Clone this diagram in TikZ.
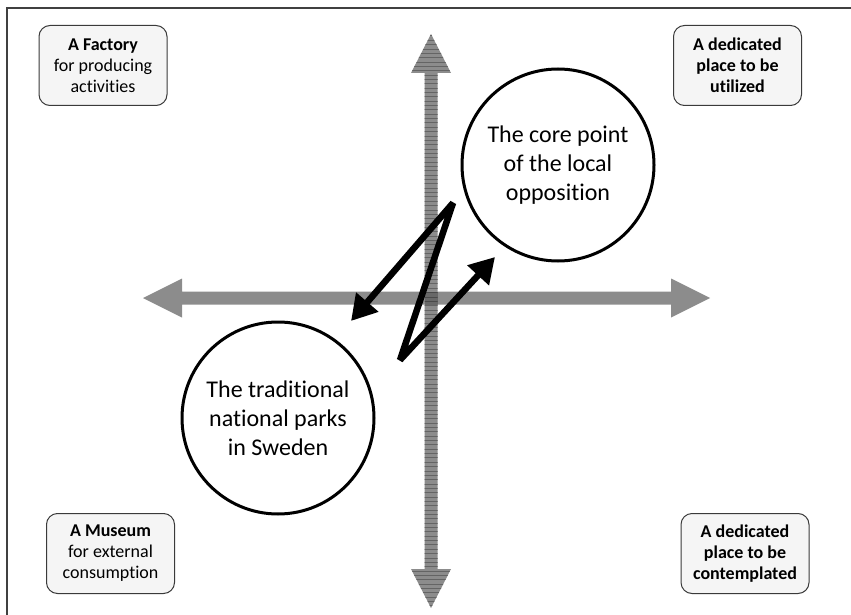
\documentclass[tikz,border=0pt]{standalone}
\usepackage{fontspec}
\setmainfont{Carlito}[Ligatures=NoCommon]
\usetikzlibrary{arrows.meta}
\definecolor{axisgray}{HTML}{8C8C8C}
\definecolor{axisdark}{HTML}{646464}
\definecolor{boxfill}{HTML}{F5F5F5}
\definecolor{boxline}{HTML}{3A3A3A}
\tikzset{
  quadbox/.style={draw=boxline, fill=boxfill, line width=1pt, rounded corners=11pt,
    minimum width=128pt, minimum height=80pt, align=center,
    font=\fontsize{18pt}{21pt}\selectfont},
  bigcircle/.style={circle, draw=black, line width=3pt, minimum size=192pt, align=center,
    font=\fontsize{24pt}{29pt}\selectfont},
  zarrow/.style={line width=6.5pt, line join=bevel, {Triangle[length=25pt,width=28pt]}-{Triangle[length=25pt,width=28pt]}},
}
\begin{document}
\begin{tikzpicture}[x=1pt,y=-1pt]
\useasboundingbox (0,0) rectangle (851,615);
% frame
\draw[line width=1.5pt, draw=black!75] (7,615) -- (7,8) -- (851,8);
% horizontal axis
\path[fill=axisgray] (143,298) -- (182,278.5) -- (182,291.5) -- (671,291.5) -- (671,278.5) -- (710,298)
  -- (671,317.5) -- (671,304.5) -- (182,304.5) -- (182,317.5) -- cycle;
% vertical axis
\path[fill=axisgray] (431,34) -- (451,73) -- (437.5,73) -- (437.5,569) -- (451,569) -- (431,608)
  -- (411,569) -- (424.5,569) -- (424.5,73) -- (411,73) -- cycle;
\begin{scope}
\clip (431,34) -- (451,73) -- (437.5,73) -- (437.5,569) -- (451,569) -- (431,608)
  -- (411,569) -- (424.5,569) -- (424.5,73) -- (411,73) -- cycle;
\foreach \k in {0,...,133} {
  \draw[axisdark, line width=1pt] (405,{36+4.35*\k}) -- (457,{36+4.35*\k});
}
\end{scope}
\fill[black, opacity=0.25] (424.5,291.5) rectangle (437.5,304.5);
% boxes
\node[quadbox] (factory) at (103,65.5) {\textbf{A Factory}\\for producing\\activities};
\node[quadbox, font=\fontsize{18pt}{21pt}\selectfont\bfseries] (utilized) at (737.5,65.5) {A dedicated\\place to be\\utilized};
\node[quadbox] (museum) at (110.5,553.5) {\textbf{A Museum}\\for external\\consumption};
\node[quadbox, font=\fontsize{18pt}{21pt}\selectfont\bfseries] (contemplated) at (745,553.5) {A dedicated\\place to be\\contemplated};
% circles
\node[bigcircle] (core) at (558,165) {The core point\\of the local\\opposition};
\node[bigcircle] (parks) at (278,418) {The traditional\\national parks\\in Sweden};
% Z arrow
\coordinate (ztip1) at (351,321);
\coordinate (ztop) at (453,203);
\coordinate (zbot) at (400,360);
\coordinate (ztip2) at (495,257);
\draw[zarrow] (ztip1) -- (ztop) -- (zbot) -- (ztip2);
\end{tikzpicture}
\end{document}
